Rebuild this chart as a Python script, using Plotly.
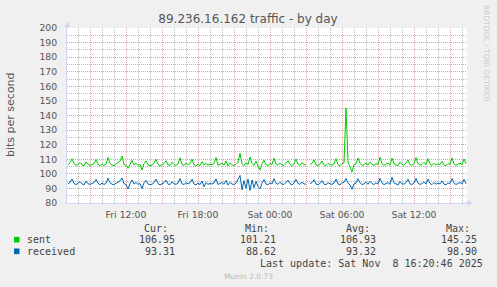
import pandas as pd
import plotly.graph_objects as go

# ---------------- data ----------------
title = "89.236.16.162 traffic - by day"
y_title = "bits per second"
series_names = ["sent", "received"]
series_colors = ["#00CC00", "#0066B3"]
start_time = "2025-11-07 07:10:00"
step = "10min"

# 10-minute samples, one row per hour (xx:10 ... xx+1:00)
sent = [
    106.2, 107.5, 110.3, 107.0, 105.8, 106.5,
    107.8, 106.0, 105.5, 108.2, 106.4, 105.9,
    106.3, 107.1, 109.8, 106.8, 105.4, 106.9,
    105.7, 106.6, 111.3, 107.2, 106.0, 105.6,
    106.8, 107.4, 108.5, 112.2, 106.5, 105.9,
    103.8, 106.4, 109.2, 106.1, 107.3, 105.8,
    106.5, 102.6, 107.0, 108.9, 106.2, 105.7,
    106.0, 107.2, 110.0, 106.6, 105.5, 106.3,
    107.0, 109.0, 106.2, 105.6, 107.8, 106.4,
    105.9, 106.7, 111.0, 106.3, 105.8, 107.1,
    106.4, 107.0, 110.1, 106.2, 105.3, 106.8,
    105.6, 108.4, 106.1, 107.2, 105.9, 106.6,
    106.2, 106.9, 111.2, 105.8, 106.4, 107.3,
    106.0, 108.9, 105.4, 107.5, 106.1, 105.8,
    106.6, 108.0, 114.1, 106.9, 105.5, 107.6,
    106.3, 111.5, 107.2, 105.8, 108.6, 106.0,
    102.6, 106.7, 109.4, 106.2, 105.7, 107.0,
    106.4, 110.6, 106.8, 105.9, 107.4, 106.1,
    105.8, 107.3, 109.0, 106.5, 105.6, 106.9,
    110.2, 106.7, 105.9, 107.6, 106.3, 106.0,
    None, 106.4, 107.2, 109.6, 106.1, 105.8,
    106.7, 108.8, 106.0, 105.7, 107.1, 106.4,
    105.9, 106.8, 110.4, 106.2, 105.6, 107.0,
    107.5, 145.25, 108.2, 104.8, 101.21, 106.3,
    106.8, 110.9, 107.3, 105.7, 106.2, 107.6,
    106.0, 108.1, 106.5, 105.8, 107.0, 106.3,
    111.4, 106.9, 105.7, 106.6, 107.3, 106.0,
    110.8, 107.0, 106.2, 105.5, 108.0, 106.4,
    106.1, 107.4, 109.5, 106.3, 105.8, 106.9,
    111.2, 106.8, 105.9, 106.5, 107.9, 106.2,
    110.4, 106.6, 105.7, 107.2, 106.0, 106.8,
    106.3, 108.6, 106.1, 105.6, 107.0, 106.5,
    110.9, 106.7, 105.8, 106.9, 107.4, 106.2,
    110.2, 106.95,
]
received = [
    93.0, 94.2, 96.5, 93.4, 92.6, 93.5,
    94.6, 93.1, 92.4, 95.0, 93.2, 92.8,
    93.3, 94.0, 96.2, 93.6, 92.5, 93.7,
    92.7, 93.5, 96.9, 94.0, 92.9, 92.6,
    93.6, 94.3, 95.1, 97.2, 93.2, 92.7,
    89.6, 93.2, 95.8, 93.0, 94.1, 92.8,
    93.4, 89.9, 93.8, 95.6, 93.0, 92.6,
    92.9, 94.0, 96.4, 93.3, 92.5, 93.1,
    93.9, 95.7, 93.0, 92.6, 94.5, 93.2,
    92.8, 93.6, 96.8, 93.1, 92.7, 93.9,
    93.2, 93.9, 96.3, 93.0, 92.4, 93.6,
    92.6, 95.1, 91.2, 94.0, 92.8, 93.4,
    93.0, 93.7, 96.6, 92.7, 93.2, 94.1,
    92.9, 95.5, 92.3, 94.2, 93.0, 92.7,
    93.5, 95.9, 98.90, 89.1, 95.3, 90.2,
    96.4, 88.62, 95.8, 90.5, 94.9, 91.3,
    89.8, 93.6, 96.1, 93.0, 92.6, 93.8,
    93.2, 96.7, 93.5, 92.8, 94.2, 93.0,
    92.7, 94.1, 95.6, 93.3, 92.5, 93.7,
    96.3, 93.4, 92.8, 94.3, 93.1, 92.9,
    None, 93.2, 94.0, 96.0, 93.0, 92.6,
    93.5, 95.4, 92.9, 92.6, 93.9, 93.2,
    92.8, 93.6, 96.4, 93.1, 92.5, 93.8,
    94.2, 96.8, 93.6, 92.4, 89.4, 93.1,
    93.6, 96.6, 94.0, 92.6, 93.1, 94.3,
    92.9, 94.8, 93.3, 92.7, 93.8, 93.1,
    96.9, 93.7, 92.6, 93.4, 94.0, 92.9,
    97.6, 93.8, 93.0, 92.4, 94.7, 93.2,
    92.9, 94.1, 96.3, 93.1, 92.7, 93.7,
    96.8, 93.5, 92.8, 93.3, 94.6, 93.0,
    96.5, 93.4, 92.6, 94.0, 92.9, 93.6,
    93.1, 95.2, 92.9, 92.5, 93.8, 93.3,
    96.7, 93.5, 92.7, 93.7, 94.1, 93.0,
    96.2, 93.31,
]

stat_headers = ["Cur:", "Min:", "Avg:", "Max:"]
sent_stats = ["106.95", "101.21", "106.93", "145.25"]
received_stats = ["93.31", "88.62", "93.32", "98.90"]
last_update = "Last update: Sat Nov  8 16:20:46 2025"
footer = "Munin 2.0.73"
side_text = "RRDTOOL / TOBI OETIKER"

x_range = ["2025-11-07 07:05:00", "2025-11-08 16:25:00"]
x_tickvals = ["2025-11-07 09:00", "2025-11-07 12:00", "2025-11-07 15:00",
              "2025-11-07 18:00", "2025-11-07 21:00", "2025-11-08 00:00",
              "2025-11-08 03:00", "2025-11-08 06:00", "2025-11-08 09:00",
              "2025-11-08 12:00", "2025-11-08 15:00"]
x_ticktext = ["", "Fri 12:00", "", "Fri 18:00", "", "Sat 00:00",
              "", "Sat 06:00", "", "Sat 12:00", ""]
x_minor_vals = [str(t) for t in pd.date_range("2025-11-07 08:00", "2025-11-08 16:00", freq="1h")
                if t.hour % 3]
y_range = [80, 200]
y_minor_vals = [85, 95, 105, 115, 125, 135, 145, 155, 165, 175, 185, 195]

# ---------------- layout geometry ----------------
W, H = 497, 287
L, R, T, B = 67, 30, 28, 84
PW, PH = W - L - R, H - T - B

def px(x):
    return (x - L) / PW

def py(y):
    return (H - B - y) / PH

FONT = "DejaVu Sans"
MONO = "DejaVu Sans Mono"
MGRID = "#E59C9C"
GRID = "#BDBDBD"
AXIS = "#CFD6F8"

times = pd.date_range(start_time, periods=len(sent), freq=step)

fig = go.Figure()
for name, vals, col in zip(series_names, [sent, received], series_colors):
    fig.add_trace(go.Scatter(x=times, y=vals, mode="lines", name=name,
                             line=dict(color=col, width=1), connectgaps=False,
                             showlegend=False, hoverinfo="skip"))

fig.update_layout(
    width=W, height=H, margin=dict(l=L, r=R, t=T, b=B, pad=0),
    paper_bgcolor="#F0F0F0", plot_bgcolor="#FFFFFF",
    font=dict(family=FONT, color="#555555", size=9.3),
    title=dict(text=title, x=248 / W, xref="container", xanchor="center",
               y=1 - 19 / H, yref="container", yanchor="middle",
               font=dict(family=FONT, size=12, color="#555555")),
    xaxis=dict(type="date", range=x_range, tickmode="array",
               tickvals=x_tickvals, ticktext=x_ticktext,
               showgrid=True, gridcolor=MGRID, gridwidth=1, griddash="1px,1px",
               showline=True, linecolor=AXIS, linewidth=1,
               ticks="", ticklabelstandoff=3, zeroline=False,
               tickfont=dict(size=9.3, color="#555555"),
               minor=dict(tickmode="array", tickvals=x_minor_vals,
                          showgrid=True, gridcolor=GRID,
                          griddash="1px,1px", gridwidth=1, ticks="")),
    yaxis=dict(range=y_range, dtick=10, tick0=0,
               showgrid=True, gridcolor=MGRID, gridwidth=1, griddash="1px,1px",
               showline=True, linecolor=AXIS, linewidth=1,
               ticks="", ticklabelstandoff=7, zeroline=False,
               tickfont=dict(size=9.3, color="#555555"),
               minor=dict(tickmode="array", tickvals=y_minor_vals, showgrid=True,
                          gridcolor=GRID, griddash="1px,1px", gridwidth=1,
                          ticks="")),
)

# arrows at the ends of the axes
fig.add_shape(type="path", xref="paper", yref="paper",
              path=f"M {px(64.5)} {py(27)} L {px(70.5)} {py(27)} L {px(67.5)} {py(21.5)} Z",
              fillcolor=AXIS, line=dict(color=AXIS, width=0), layer="above")
fig.add_shape(type="line", xref="paper", yref="paper",
              x0=px(67.5), x1=px(67.5), y0=py(28), y1=py(26),
              line=dict(color=AXIS, width=1))
fig.add_shape(type="path", xref="paper", yref="paper",
              path=f"M {px(467.5)} {py(200)} L {px(467.5)} {py(206)} L {px(473)} {py(203)} Z",
              fillcolor=AXIS, line=dict(color=AXIS, width=0), layer="above")
fig.add_shape(type="line", xref="paper", yref="paper",
              x0=px(464), x1=px(468), y0=py(203), y1=py(203),
              line=dict(color=AXIS, width=1))

def ann(text, x, y, xanchor="left", yanchor="middle", size=10, family=MONO,
        color="#444444", angle=0):
    fig.add_annotation(text=text, x=px(x), y=py(y), xref="paper", yref="paper",
                       xanchor=xanchor, yanchor=yanchor, showarrow=False,
                       textangle=angle, borderpad=0, borderwidth=0,
                       font=dict(family=family, size=size, color=color))

# y-axis title
ann(y_title, 10, 115, "center", "middle", size=11, family=FONT,
    color="#555555", angle=-90)
# side credit
ann(side_text, 487, 53, "center", "middle", size=7.5, family=FONT,
    color="#CCCCCC", angle=90)

# legend table
header_right = [168, 269, 370, 470]
value_right = [175, 276, 376, 477]
for h, xr in zip(stat_headers, header_right):
    ann(h, xr, 228, "right")
rows_y = [239.7, 251.3]
for name, col, stats, yy in zip(series_names, series_colors,
                                [sent_stats, received_stats], rows_y):
    fig.add_shape(type="rect", xref="paper", yref="paper",
                  x0=px(14), x1=px(19.5), y0=py(yy + 2.8), y1=py(yy - 2.8),
                  fillcolor=col, line=dict(width=0))
    ann(name, 26.5, yy, "left")
    for v, xr in zip(stats, value_right):
        ann(v, xr, yy, "right")

ann(last_update.replace("  ", " \u00a0"), 483, 263.7, "right")
ann(footer, 248, 276, "center", size=7.5, family=FONT, color="#BBBBBB")

fig.write_html("out.html")
